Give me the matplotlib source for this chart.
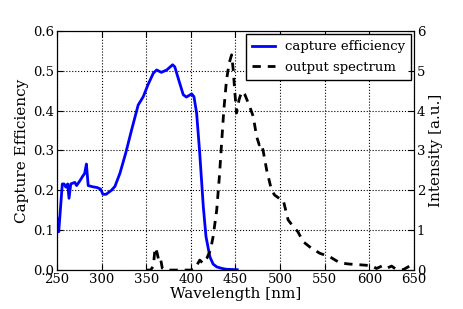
import matplotlib
matplotlib.use("Agg")
import matplotlib.pyplot as plt

plt.rcParams['font.family'] = ['DejaVu Serif']
plt.rcParams['mathtext.fontset'] = 'dejavuserif'

# capture efficiency
ce_wl = [250, 251.5, 252, 256, 258, 260, 262, 263.5, 265.5, 270, 272, 276, 279,
         281, 283, 285, 290, 295, 299, 301.5, 305, 311, 315, 320.6, 327, 333.7,
         341, 346.7, 352, 358, 361.7, 367, 373, 379.6, 382, 387, 391.5, 395, 401,
         403.5, 406.5, 410, 414, 417, 421.4, 425, 429, 435, 440, 452]
ce_val = [0.13, 0.11, 0.096, 0.216, 0.216, 0.208, 0.216, 0.18, 0.216, 0.22,
          0.212, 0.225, 0.236, 0.242, 0.266, 0.212, 0.209, 0.207, 0.203, 0.19,
          0.19, 0.2, 0.21, 0.243, 0.293, 0.352, 0.414, 0.435, 0.465, 0.494,
          0.502, 0.496, 0.502, 0.515, 0.51, 0.473, 0.44, 0.434, 0.442, 0.435,
          0.394, 0.293, 0.159, 0.084, 0.033, 0.015, 0.008, 0.004, 0.002, 0.001]

# output spectrum
sp_wl = [350, 355, 358, 360, 362, 364, 366, 368, 372, 380, 390, 400, 405, 410,
         413.6, 418, 422, 425, 429, 432, 434.5, 437, 440, 443, 445.7, 447.5,
         449.4, 451.3, 454, 457, 460.6, 466, 470, 473.7, 476.7, 479, 481, 485,
         490.5, 494, 499, 503.5, 509, 514.8, 520, 526, 535, 544.7, 556, 567,
         578, 591, 602.6, 608, 614, 619, 625, 630, 638, 647.4, 650]
sp_val = [0.0, 0.0, 0.1, 0.56, 0.45, 0.25, 0.3, 0.05, 0.0, 0.0, 0.0, 0.0, 0.05,
          0.25, 0.17, 0.3, 0.5, 0.84, 1.5, 2.34, 3.19, 4.02, 4.77, 5.19, 5.4,
          5.03, 4.44, 3.94, 4.27, 4.48, 4.4, 4.1, 3.85, 3.35, 3.14, 3.18, 3.0,
          2.51, 2.0, 1.88, 1.8, 1.76, 1.26, 1.09, 0.96, 0.71, 0.55, 0.42, 0.33,
          0.18, 0.15, 0.13, 0.11, 0.04, 0.1, 0.04, 0.1, 0.02, 0.01, 0.13, 0.21]

fig = plt.figure(figsize=(4.63, 3.09), dpi=100)
ax = fig.add_axes([0.123, 0.126, 0.771, 0.774])
ax2 = ax.twinx()

l1, = ax.plot(ce_wl, ce_val, color='blue', lw=2, label='capture efficiency')
l2, = ax2.plot(sp_wl, sp_val, color='black', lw=2, ls=(0, (3, 2.5)),
               label='output spectrum')

ax.set_xlim(250, 650)
ax.set_ylim(0, 0.6)
ax2.set_ylim(0, 6)
ax.set_xticks(range(250, 651, 50))
ax.set_yticks([0.0, 0.1, 0.2, 0.3, 0.4, 0.5, 0.6])
ax.set_yticklabels(['0.0', '0.1', '0.2', '0.3', '0.4', '0.5', '0.6'])
ax2.set_yticks(range(0, 7))

ax.grid(True, color='black', ls=':', lw=0.8)
for a in (ax, ax2):
    a.tick_params(direction='in', labelsize=9.5, length=4, pad=2)
ax.tick_params(top=True)

ax.set_xlabel('Wavelength [nm]', fontsize=11, labelpad=1)
ax.set_ylabel('Capture Efficiency', fontsize=11, labelpad=3)
ax2.set_ylabel('Intensity [a.u.]', fontsize=11, labelpad=3)

leg = ax.legend(handles=[l1, l2], loc='upper right', fontsize=9.5,
                fancybox=False, framealpha=1, edgecolor='black',
                borderaxespad=0.25, handlelength=1.8, handletextpad=0.7,
                labelspacing=0.6, borderpad=0.45)
leg.get_frame().set_linewidth(1.0)

fig.savefig('out.png', dpi=100)
